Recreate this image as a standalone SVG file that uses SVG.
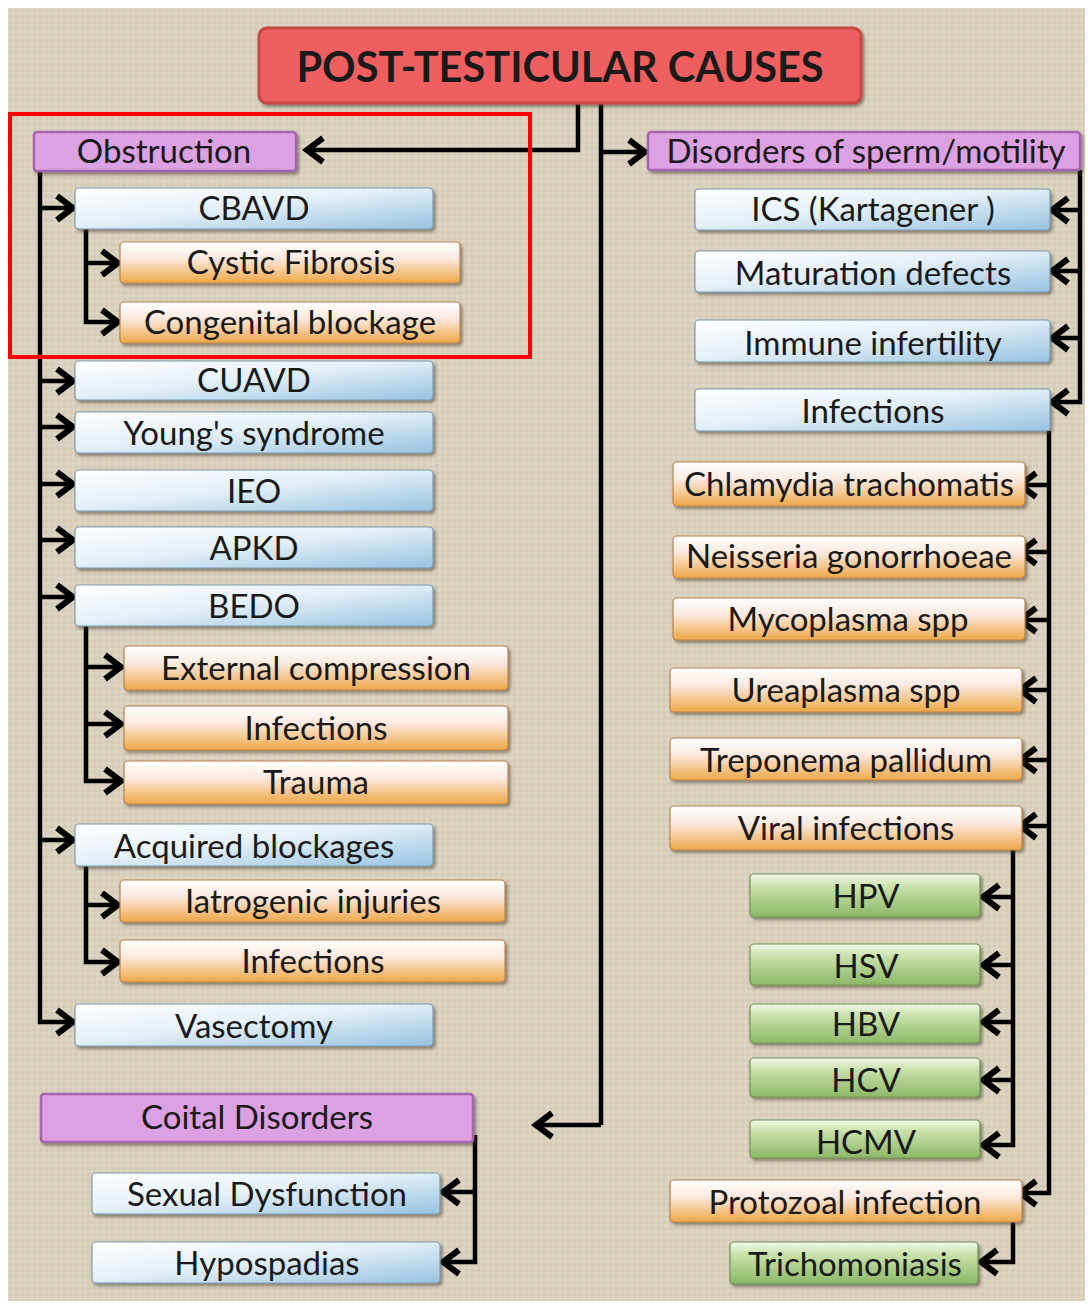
<svg xmlns="http://www.w3.org/2000/svg" width="1088" height="1304" viewBox="0 0 1088 1304">
<style>
.t{font-family:Lato,"Open Sans","Liberation Sans",sans-serif;font-size:33px;fill:#1a1a1a;text-anchor:middle}
.title{font-family:Lato,"Open Sans","Liberation Sans",sans-serif;font-size:41.5px;font-weight:bold;fill:#1a1a1a;text-anchor:middle}
.blue{fill:url(#gBlue);stroke:#7c9cb4;stroke-width:1.2;filter:url(#sh)}
.orange{fill:url(#gOrange);stroke:#b98550;stroke-width:1.2;filter:url(#sh)}
.green{fill:url(#gGreen);stroke:#6e9552;stroke-width:1.2;filter:url(#sh)}
.purple{fill:#dca1e2;stroke:#a565ae;stroke-width:2.5;filter:url(#sh)}
.red{fill:#ef5f5f;stroke:#c84646;stroke-width:3;filter:url(#sh)}
.c{fill:none;stroke:#000;stroke-width:4.5;stroke-linejoin:miter}
.a{marker-end:url(#ah)}
</style>
<defs>
<linearGradient id="gBlue" x1="0" y1="0" x2="1" y2="1">
<stop offset="0" stop-color="#ffffff"/><stop offset="0.45" stop-color="#e5f0f8"/><stop offset="1" stop-color="#98c3e0"/>
</linearGradient>
<linearGradient id="gOrange" x1="0" y1="0" x2="0" y2="1">
<stop offset="0" stop-color="#ffffff"/><stop offset="0.4" stop-color="#fbe9df"/><stop offset="1" stop-color="#efa746"/>
</linearGradient>
<linearGradient id="gGreen" x1="0" y1="0" x2="0" y2="1">
<stop offset="0" stop-color="#f2f8ea"/><stop offset="0.3" stop-color="#c9e1aa"/><stop offset="1" stop-color="#8cb867"/>
</linearGradient>
<filter id="sh" x="-5%" y="-20%" width="115%" height="160%">
<feDropShadow dx="2" dy="2.5" stdDeviation="1.5" flood-color="#4a4030" flood-opacity="0.55"/>
</filter>
<pattern id="tex" width="6" height="6" patternUnits="userSpaceOnUse">
<rect width="6" height="6" fill="#d9d0bd"/>
<rect x="0" y="0" width="3" height="3" fill="#ddd5c3"/>
<rect x="3" y="3" width="3" height="3" fill="#d4cab6"/>
</pattern>
<marker id="ah" viewBox="0 0 26 30" refX="21" refY="15" markerWidth="26" markerHeight="30" markerUnits="userSpaceOnUse" orient="auto">
<path d="M4,3 L20,15 L4,27" fill="none" stroke="#000" stroke-width="6"/>
</marker>
</defs>
<rect width="1088" height="1304" fill="#ffffff"/>
<rect x="8" y="8" width="1077" height="1293" fill="url(#tex)"/>

<g id="connectors">
<path class="c a" d="M578,103 V150 H306"/>
<path class="c" d="M601,103 V1125"/>
<path class="c a" d="M601,1125 H535"/>
<path class="c a" d="M601,152 H646"/>
<path class="c a" d="M40,171 V1022 H74"/>
<path class="c a" d="M40,208 H74"/>
<path class="c a" d="M40,381 H74"/>
<path class="c a" d="M40,427 H74"/>
<path class="c a" d="M40,484 H74"/>
<path class="c a" d="M40,540 H74"/>
<path class="c a" d="M40,597 H74"/>
<path class="c a" d="M40,840 H74"/>
<path class="c a" d="M86,229 V322 H119"/>
<path class="c a" d="M86,263 H119"/>
<path class="c a" d="M86,626 V781 H122"/>
<path class="c a" d="M86,667 H122"/>
<path class="c a" d="M86,724 H122"/>
<path class="c a" d="M86,866 V962 H119"/>
<path class="c a" d="M86,905 H119"/>
<path class="c a" d="M475,1135 V1262 H442"/>
<path class="c a" d="M475,1192 H442"/>
<path class="c a" d="M1080,170 V402 H1051"/>
<path class="c a" d="M1080,210 H1051"/>
<path class="c a" d="M1080,271 H1051"/>
<path class="c a" d="M1080,338 H1051"/>
<path class="c a" d="M1049,431 V1193 H1019"/>
<path class="c a" d="M1049,485 H1019"/>
<path class="c a" d="M1049,552 H1019"/>
<path class="c a" d="M1049,620 H1019"/>
<path class="c a" d="M1049,690 H1019"/>
<path class="c a" d="M1049,760 H1019"/>
<path class="c a" d="M1049,826 H1019"/>
<path class="c a" d="M1013,850 V1145 H982"/>
<path class="c a" d="M1013,897 H982"/>
<path class="c a" d="M1013,965 H982"/>
<path class="c a" d="M1013,1022 H982"/>
<path class="c a" d="M1013,1080 H982"/>
<path class="c a" d="M1013,1220 V1262 H980"/>
</g>

<g id="title"><rect class="red" x="259" y="28" width="602" height="75" rx="8"/><text class="title" x="560" y="82">POST-TESTICULAR CAUSES</text></g>

<g id="obstruction"><rect class="purple" x="34" y="132" width="262" height="39" rx="3"/><text class="t" x="164" y="163">Obstruction</text></g>
<g id="cbavd"><rect class="blue" x="75" y="188" width="358" height="41" rx="4"/><text class="t" x="254" y="220">CBAVD</text></g>
<g id="cystic"><rect class="orange" x="120" y="242" width="340" height="41" rx="4"/><text class="t" x="291" y="274">Cystic Fibrosis</text></g>
<g id="congenital"><rect class="orange" x="120" y="302" width="340" height="41" rx="4"/><text class="t" x="290" y="334">Congenital blockage</text></g>
<g id="cuavd"><rect class="blue" x="75" y="361" width="358" height="39" rx="4"/><text class="t" x="254" y="392">CUAVD</text></g>
<g id="youngs"><rect class="blue" x="75" y="412" width="358" height="41" rx="4"/><text class="t" x="254" y="445">Young's syndrome</text></g>
<g id="ieo"><rect class="blue" x="75" y="470" width="358" height="41" rx="4"/><text class="t" x="254" y="503">IEO</text></g>
<g id="apkd"><rect class="blue" x="75" y="527" width="358" height="41" rx="4"/><text class="t" x="254" y="560">APKD</text></g>
<g id="bedo"><rect class="blue" x="75" y="585" width="358" height="41" rx="4"/><text class="t" x="254" y="618">BEDO</text></g>
<g id="external"><rect class="orange" x="124" y="646" width="384" height="44" rx="4"/><text class="t" x="316" y="680">External compression</text></g>
<g id="infections-bedo"><rect class="orange" x="124" y="706" width="384" height="44" rx="4"/><text class="t" x="316" y="740">Infections</text></g>
<g id="trauma"><rect class="orange" x="124" y="761" width="384" height="43" rx="4"/><text class="t" x="316" y="794">Trauma</text></g>
<g id="acquired"><rect class="blue" x="75" y="824" width="358" height="42" rx="4"/><text class="t" x="254" y="858">Acquired blockages</text></g>
<g id="iatrogenic"><rect class="orange" x="120" y="880" width="385" height="42" rx="4"/><text class="t" x="313" y="913">Iatrogenic injuries</text></g>
<g id="infections-acq"><rect class="orange" x="120" y="940" width="385" height="42" rx="4"/><text class="t" x="313" y="973">Infections</text></g>
<g id="vasectomy"><rect class="blue" x="75" y="1004" width="358" height="42" rx="4"/><text class="t" x="254" y="1038">Vasectomy</text></g>

<g id="coital"><rect class="purple" x="41" y="1094" width="432" height="48" rx="3"/><text class="t" x="257" y="1129">Coital Disorders</text></g>
<g id="sexual"><rect class="blue" x="92" y="1173" width="348" height="41" rx="4"/><text class="t" x="267" y="1206">Sexual Dysfunction</text></g>
<g id="hypospadias"><rect class="blue" x="92" y="1242" width="348" height="41" rx="4"/><text class="t" x="267" y="1275">Hypospadias</text></g>

<g id="disorders"><rect class="purple" x="648" y="132" width="432" height="38" rx="3"/><text class="t" x="866" y="163">Disorders of sperm/motility</text></g>
<g id="ics"><rect class="blue" x="695" y="189" width="355" height="41" rx="4"/><text class="t" x="873" y="221">ICS (Kartagener )</text></g>
<g id="maturation"><rect class="blue" x="695" y="251" width="355" height="41" rx="4"/><text class="t" x="873" y="285">Maturation defects</text></g>
<g id="immune"><rect class="blue" x="695" y="320" width="355" height="42" rx="4"/><text class="t" x="873" y="355">Immune infertility</text></g>
<g id="infections-r"><rect class="blue" x="695" y="389" width="355" height="42" rx="4"/><text class="t" x="873" y="423">Infections</text></g>
<g id="chlamydia"><rect class="orange" x="673" y="462" width="352" height="44" rx="4"/><text class="t" x="849" y="496">Chlamydia trachomatis</text></g>
<g id="neisseria"><rect class="orange" x="673" y="536" width="352" height="42" rx="4"/><text class="t" x="849" y="568">Neisseria gonorrhoeae</text></g>
<g id="mycoplasma"><rect class="orange" x="673" y="598" width="352" height="42" rx="4"/><text class="t" x="848" y="631">Mycoplasma spp</text></g>
<g id="ureaplasma"><rect class="orange" x="670" y="668" width="352" height="44" rx="4"/><text class="t" x="846" y="702">Ureaplasma spp</text></g>
<g id="treponema"><rect class="orange" x="670" y="738" width="352" height="42" rx="4"/><text class="t" x="846" y="772">Treponema pallidum</text></g>
<g id="viral"><rect class="orange" x="670" y="806" width="352" height="44" rx="4"/><text class="t" x="846" y="840">Viral infections</text></g>
<g id="hpv"><rect class="green" x="750" y="874" width="230" height="43" rx="4"/><text class="t" x="866" y="908">HPV</text></g>
<g id="hsv"><rect class="green" x="750" y="944" width="230" height="41" rx="4"/><text class="t" x="866" y="978">HSV</text></g>
<g id="hbv"><rect class="green" x="750" y="1004" width="230" height="39" rx="4"/><text class="t" x="866" y="1036">HBV</text></g>
<g id="hcv"><rect class="green" x="750" y="1058" width="230" height="39" rx="4"/><text class="t" x="866" y="1092">HCV</text></g>
<g id="hcmv"><rect class="green" x="750" y="1120" width="230" height="38" rx="4"/><text class="t" x="866" y="1154">HCMV</text></g>
<g id="protozoal"><rect class="orange" x="670" y="1180" width="352" height="42" rx="4"/><text class="t" x="845" y="1214">Protozoal infection</text></g>
<g id="trichomoniasis"><rect class="green" x="730" y="1242" width="248" height="42" rx="4"/><text class="t" x="855" y="1276">Trichomoniasis</text></g>

<g id="highlight"><rect x="10" y="114" width="520" height="243" fill="none" stroke="#ff0000" stroke-width="4"/></g>
</svg>
